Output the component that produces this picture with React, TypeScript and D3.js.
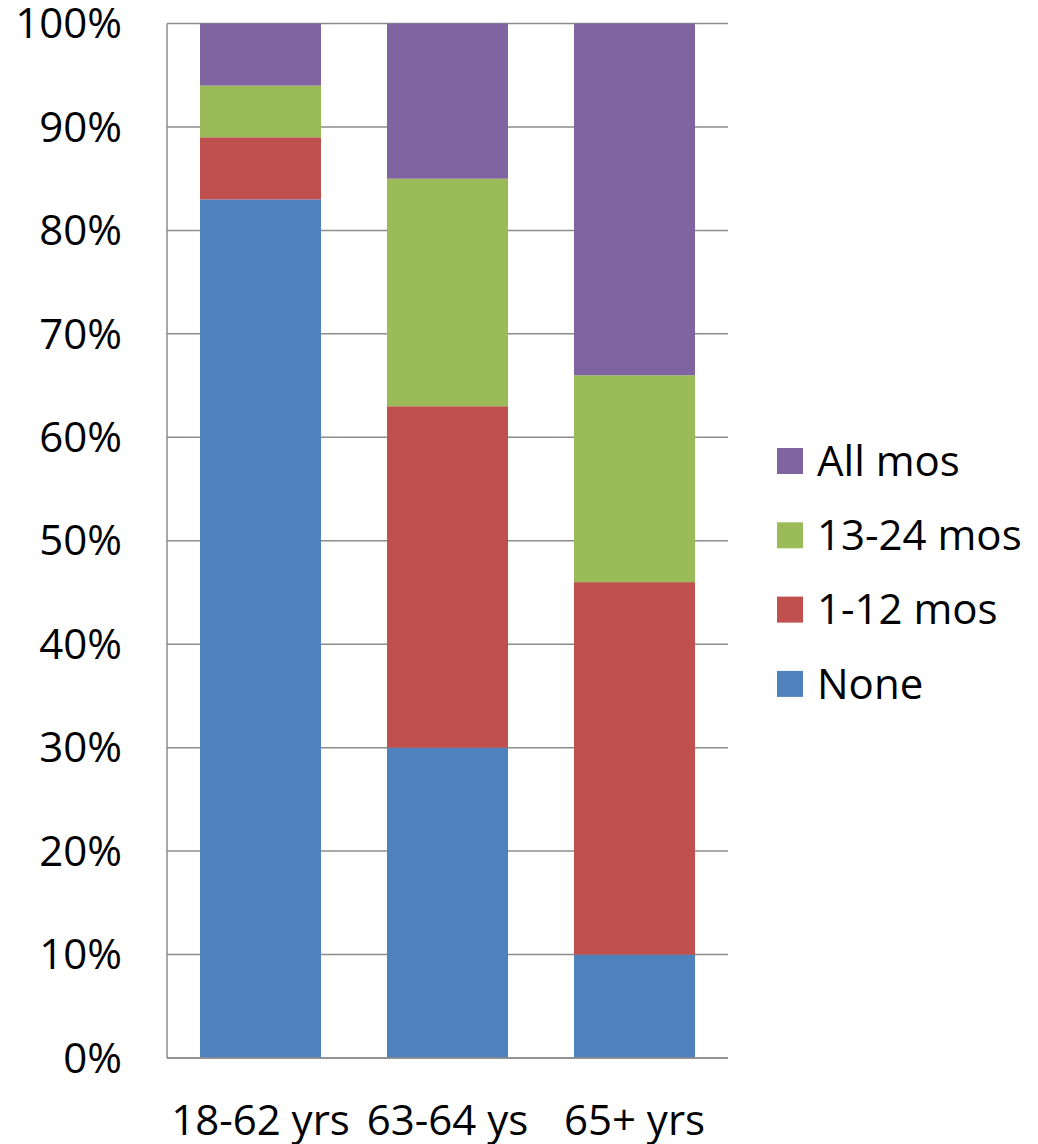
import React from "react";
import * as d3 from "d3";

const categories = ["18-62 yrs", "63-64 ys", "65+ yrs"];
const seriesNames = ["None", "1-12 mos", "13-24 mos", "All mos"];
const none = [83, 30, 10];
const m1to12 = [6, 33, 36];
const m13to24 = [5, 22, 20];
const allMos = [6, 15, 34];
const yTicks = [0, 10, 20, 30, 40, 50, 60, 70, 80, 90, 100];
const colors = ["#4F81BD", "#C0504D", "#9BBB59", "#8064A2"];

const W = 1038;
const H = 1144;
const left = 167;
const right = 728;
const top = 23.5;
const bottom = 1058;
const FONT = "'Open Sans', sans-serif";

export default function App() {
  const x = d3.scaleBand<string>().domain(categories).range([left, right]).paddingInner(0.353).paddingOuter(0.1765);
  const y = d3.scaleLinear().domain([0, 100]).range([bottom, top]);
  const rows = categories.map((c, i) => ({
    cat: c,
    "None": none[i],
    "1-12 mos": m1to12[i],
    "13-24 mos": m13to24[i],
    "All mos": allMos[i],
  }));
  const stack = d3.stack<any>().keys(seriesNames)(rows);
  const legendOrder = [...seriesNames].reverse();

  return (
    <svg width={W} height={H} style={{ position: "absolute", left: 0, top: 0, background: "#fff" }} fontFamily={FONT}>
      {yTicks.map((t) => (
        <g key={t}>
          <line x1={left} x2={right} y1={y(t)} y2={y(t)} stroke="#8c8c8c" strokeWidth={1.5} />
          <text x={122} y={y(t)} dy="0.35em" textAnchor="end" fontSize={42} fill="#000">
            {t}%
          </text>
        </g>
      ))}
      <line x1={left} x2={left} y1={top} y2={bottom} stroke="#8c8c8c" strokeWidth={1.5} />
      {stack.map((s, si) => (
        <g key={s.key} fill={colors[si]}>
          {s.map((d, i) => (
            <rect
              key={i}
              x={x(categories[i])}
              width={x.bandwidth()}
              y={y(d[1])}
              height={y(d[0]) - y(d[1])}
            />
          ))}
        </g>
      ))}
      <line x1={left} x2={right} y1={bottom} y2={bottom} stroke="#8c8c8c" strokeWidth={1.5} />
      {categories.map((c) => (
        <text key={c} x={(x(c) ?? 0) + x.bandwidth() / 2} y={1135} textAnchor="middle" fontSize={42} fill="#000">
          {c}
        </text>
      ))}
      {legendOrder.map((name, i) => {
        const cy = 461 + i * 74.3;
        const ci = seriesNames.indexOf(name);
        return (
          <g key={name}>
            <rect x={777} y={cy - 13} width={26} height={26} fill={colors[ci]} />
            <text x={817} y={cy} dy="0.35em" fontSize={42} fill="#000">
              {name}
            </text>
          </g>
        );
      })}
    </svg>
  );
}
